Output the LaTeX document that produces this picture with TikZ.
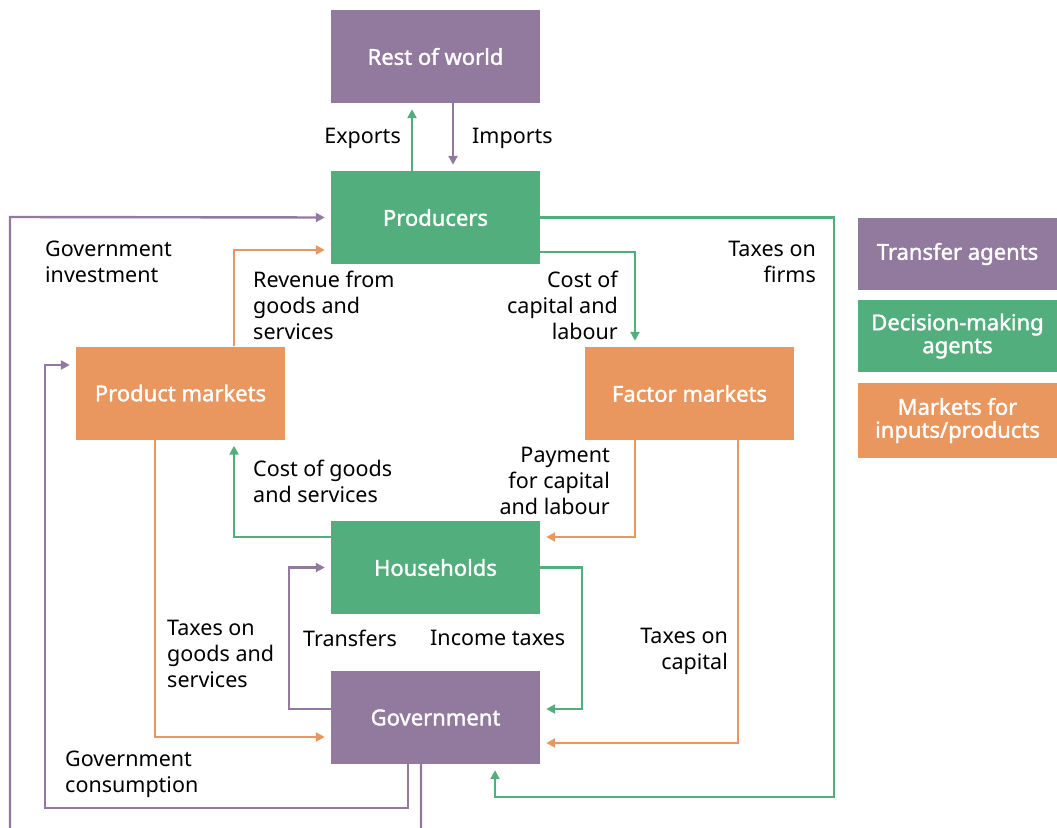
\documentclass[tikz,border=0pt]{standalone}
\usepackage{fontspec}
\setmainfont{Noto Sans}
\newfontfamily\boxfont{Noto Sans}[FakeBold=1.6]
\usetikzlibrary{arrows.meta,positioning}
\definecolor{cTrans}{HTML}{927A9E}
\definecolor{cDecis}{HTML}{52AE7D}
\definecolor{cMarket}{HTML}{E9965F}
\tikzset{
  >={Triangle[length=9pt,width=9pt]},
  agent/.style={rectangle, inner sep=0pt, align=center, text=white,
                minimum width=209pt, minimum height=93pt,
                font=\boxfont\fontsize{22}{23}\selectfont},
  legbox/.style={agent, minimum width=199pt, minimum height=72pt},
  arr/.style={->, line width=2.4pt, shorten >=6pt},
  parr/.style={arr, draw=cTrans},
  garr/.style={arr, draw=cDecis},
  oarr/.style={arr, draw=cMarket},
  lbl/.style={inner sep=0pt, font=\fontsize{21.5}{26}\selectfont},
}
\begin{document}
\begin{tikzpicture}[x=1pt, y=-1pt]
    \useasboundingbox (0,0) rectangle (1057,827);
    % agents and markets
    \node[agent, fill=cTrans]  (rest) at (435.5,56.5)  {Rest of world};
    \node[agent, fill=cDecis]  (prod) at (435.5,217.5) {Producers};
    \node[agent, fill=cMarket] (pmkt) at (180.5,393)   {Product markets};
    \node[agent, fill=cMarket] (fmkt) at (689.5,393.5) {Factor markets};
    \node[agent, fill=cDecis]  (house) at (435.5,567.5) {Households};
    \node[agent, fill=cTrans]  (gov) at (435.5,717.5)  {Government};
    % legend
    \node[legbox, fill=cTrans]  (legtr) at (957.5,254)   {Transfer agents};
    \node[legbox, fill=cDecis]  (legdm) at (957.5,336)   {Decision-making\\agents};
    \node[legbox, fill=cMarket, minimum height=75pt] (legmk) at (957.5,420.5) {Markets for\\inputs/products};
    % flows
    \draw[garr] ([xshift=-23.5pt]prod.north) -- ([xshift=-23.5pt]rest.south);
    \draw[parr] ([xshift=17.5pt]rest.south) -- ([xshift=17.5pt]prod.north);
    \draw[parr] ([xshift=-14.5pt]gov.south) -- ++(0,66) -| (10,217) -- (prod.west);
    \draw[parr] ([xshift=-27.5pt]gov.south) |- (45,808) |- ([yshift=28pt]pmkt.west);
    \draw[oarr] ([xshift=53.5pt]pmkt.north) |- ([yshift=-32.5pt]prod.west);
    \draw[garr] ([yshift=-34.5pt]prod.east) -| ([xshift=-54.5pt]fmkt.north);
    \draw[garr] (prod.east) -| (834,797) -| ([xshift=59.5pt]gov.south);
    \draw[oarr] ([xshift=-54.5pt]fmkt.south) |- ([yshift=30.5pt]house.east);
    \draw[garr] ([yshift=30.5pt]house.west) -| ([xshift=53.5pt]pmkt.south);
    \draw[oarr] ([xshift=48.5pt]fmkt.south) |- ([yshift=-25.5pt]gov.east);
    \draw[garr] (house.east) -- ++(41.5,0) |- ([yshift=8.5pt]gov.east);
    \draw[parr] ([yshift=8.5pt]gov.west) -- ++(-42,0) |- (house.west);
    \draw[oarr] ([xshift=-25.5pt]pmkt.south) |- ([yshift=-19.5pt]gov.west);
    % labels
    \node[lbl, anchor=east] (lexp) at (401,138) {Exports};
    \node[lbl, anchor=west] (limp) at (472,138) {Imports};
    \node[lbl, anchor=west, align=left] (linv) at (45,262) {Government\\investment};
    \node[lbl, anchor=west, align=left] (lrev) at (253,305) {Revenue from\\goods and\\services};
    \node[lbl, anchor=east, align=right] (lcap) at (618,305) {Cost of\\capital and\\labour};
    \node[lbl, anchor=east, align=right] (lfirm) at (816,262) {Taxes on\\firms};
    \node[lbl, anchor=west, align=left] (lcgs) at (253,481) {Cost of goods\\and services};
    \node[lbl, anchor=east, align=right] (lpay) at (610,481) {Payment\\for capital\\and labour};
    \node[lbl, anchor=west, align=left] (ltgs) at (167,654) {Taxes on\\goods and\\services};
    \node[lbl, anchor=west] (ltrf) at (303,638) {Transfers};
    \node[lbl, anchor=west] (linc) at (430,638) {Income taxes};
    \node[lbl, anchor=east, align=right] (ltcap) at (728,651) {Taxes on\\capital};
    \node[lbl, anchor=west, align=left] (lcons) at (65,774) {Government\\consumption};
\end{tikzpicture}
\end{document}
